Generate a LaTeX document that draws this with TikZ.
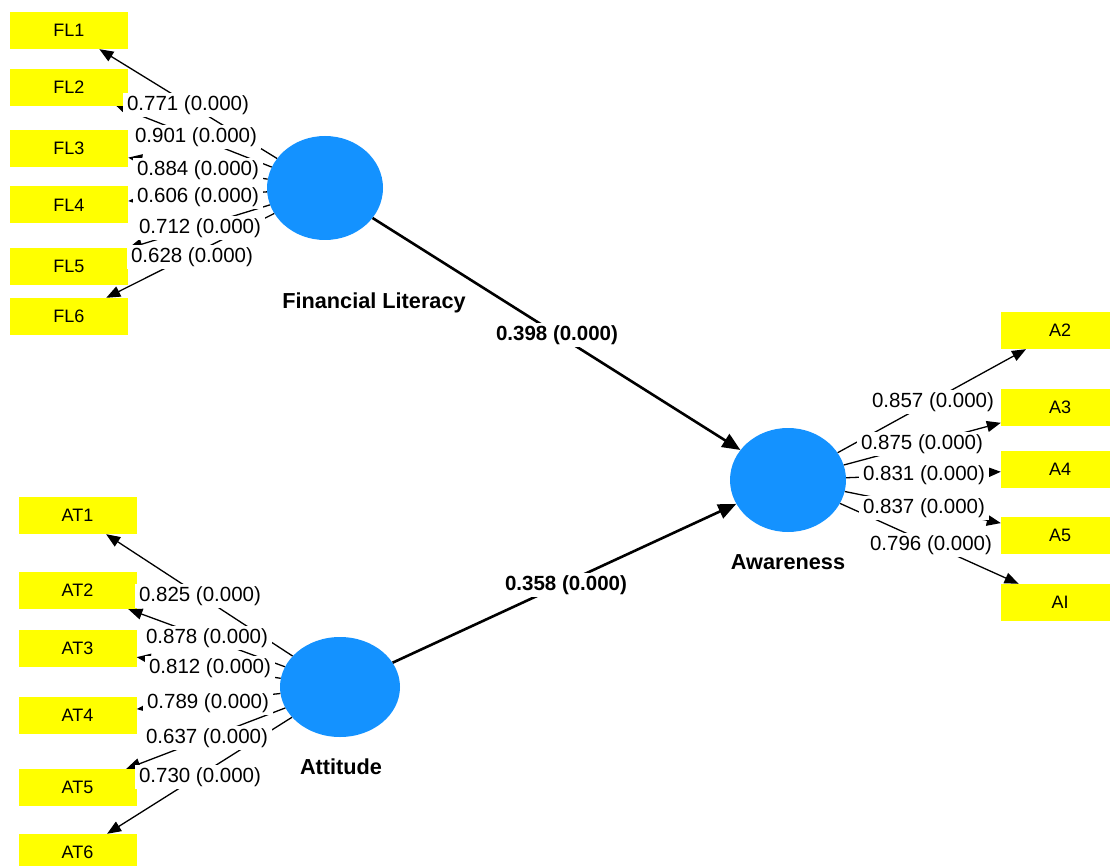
\documentclass[tikz,border=0pt]{standalone}
\usepackage{fontspec}
\setmainfont{Liberation Sans}
\usetikzlibrary{arrows.meta,shapes.geometric}
\definecolor{lvblue}{RGB}{20,146,255}
\definecolor{mvyellow}{RGB}{255,255,0}
\begin{document}
\begin{tikzpicture}[x=1pt,y=-1pt,
 ind/.style={rectangle, fill=mvyellow, minimum width=118pt, minimum height=37pt, inner sep=0pt, font=\fontsize{18}{20}\selectfont},
 lv/.style={ellipse, fill=lvblue, minimum width=116pt, minimum height=104pt, inner sep=0pt},
 loadarrow/.style={draw=black, line width=1.3pt, -{Triangle[length=14pt,width=11pt]}},
 structarrow/.style={draw=black, line width=2.6pt, -{Triangle[length=18pt,width=15pt]}},
 wlab/.style={fill=white, inner xsep=4pt, inner ysep=2pt, font=\fontsize{20.5}{23}\selectfont},
 blab/.style={fill=white, inner xsep=4pt, inner ysep=2pt, font=\bfseries\fontsize{20.5}{23}\selectfont},
 lvlab/.style={inner sep=0pt, font=\bfseries\fontsize{21.7}{24}\selectfont}]
\useasboundingbox (0,0) rectangle (1110,866);

% latent variables
\node[lv] (fl) at (325,188) {};
\node[lv, minimum width=120pt, minimum height=100pt] (at) at (340,687) {};
\node[lv] (aw) at (788,480) {};

% indicators
\node[ind] (fl1) at (69,30.5) {FL1};
\node[ind] (fl2) at (69,87.5) {FL2};
\node[ind] (fl3) at (69,148.5) {FL3};
\node[ind] (fl4) at (69,205) {FL4};
\node[ind] (fl5) at (69,266.5) {FL5};
\node[ind] (fl6) at (69,316.5) {FL6};

\node[ind] (at1) at (77.5,515.5) {AT1};
\node[ind] (at2) at (77.5,590.5) {AT2};
\node[ind] (at3) at (77.5,648.5) {AT3};
\node[ind] (at4) at (77.5,715.5) {AT4};
\node[ind] (at5) at (77.5,787.5) {AT5};
\node[ind] (at6) at (77.5,852.5) {AT6};

\node[ind] (a2) at (1060,330.5) {A2};
\node[ind] (a3) at (1060,407) {A3};
\node[ind] (a4) at (1060,469.5) {A4};
\node[ind] (a5) at (1060,535) {A5};
\node[ind] (ai) at (1060,602.5) {AI};

% outer loadings
\foreach \t in {fl1,fl2,fl3,fl4,fl5,fl6} \draw[loadarrow] (fl) -- (\t);
\foreach \t in {at1,at2,at3,at4,at5,at6} \draw[loadarrow] (at) -- (\t);
\foreach \t in {a2,a3,a4,a5,ai} \draw[loadarrow] (aw) -- (\t);

% structural paths
\draw[structarrow] (fl) -- (aw);
\draw[structarrow] (at) -- (aw);

% loading labels
\node[wlab] (lfl1) at (188,105) {0.771 (0.000)};
\node[wlab] (lfl2) at (196,137) {0.901 (0.000)};
\node[wlab] (lfl3) at (198,170) {0.884 (0.000)};
\node[wlab] (lfl4) at (198,197) {0.606 (0.000)};
\node[wlab] (lfl5) at (200,228) {0.712 (0.000)};
\node[wlab] (lfl6) at (192,257) {0.628 (0.000)};

\node[wlab] (lat1) at (200,596) {0.825 (0.000)};
\node[wlab] (lat2) at (207,638) {0.878 (0.000)};
\node[wlab] (lat3) at (210,668) {0.812 (0.000)};
\node[wlab] (lat4) at (208,703) {0.789 (0.000)};
\node[wlab] (lat5) at (207,738) {0.637 (0.000)};
\node[wlab] (lat6) at (200,777) {0.730 (0.000)};

\node[wlab] (la2) at (933,402) {0.857 (0.000)};
\node[wlab] (la3) at (922,444) {0.875 (0.000)};
\node[wlab] (la4) at (924,475) {0.831 (0.000)};
\node[wlab] (la5) at (924,508) {0.837 (0.000)};
\node[wlab] (lai) at (931,545) {0.796 (0.000)};

% path coefficients
\node[blab] (pfl) at (557,335) {0.398 (0.000)};
\node[blab] (pat) at (566,585) {0.358 (0.000)};

% construct names
\node[lvlab] (nfl) at (374,303) {Financial Literacy};
\node[lvlab] (nat) at (341,767) {Attitude};
\node[lvlab] (naw) at (788,562) {Awareness};
\end{tikzpicture}
\end{document}
